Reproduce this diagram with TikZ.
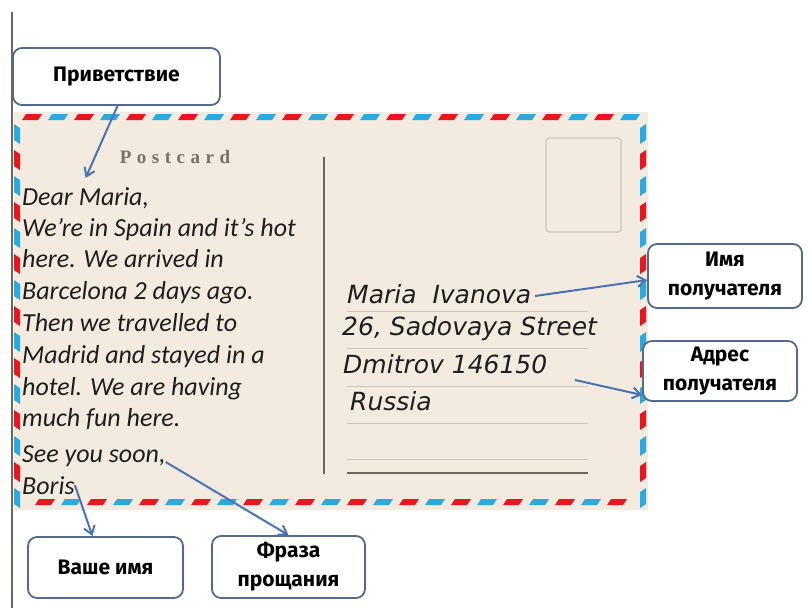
\documentclass[tikz,border=0pt]{standalone}
\usepackage{fontspec}
\setmainfont{Carlito}
\newfontfamily\handfont{DejaVu Sans}
\newfontfamily\labfont{Fira Sans}
\newfontfamily\pcfont{Liberation Serif}
\usetikzlibrary{arrows.meta}
\definecolor{beige}{RGB}{244,235,224}
\definecolor{amred}{RGB}{232,22,32}
\definecolor{amblue}{RGB}{42,170,222}
\definecolor{arrowblue}{RGB}{72,116,180}
\definecolor{boxedge}{RGB}{84,106,140}
\definecolor{txt}{RGB}{30,30,30}
\definecolor{linegray}{RGB}{205,196,186}
\definecolor{darkline}{RGB}{110,102,94}
\definecolor{pcgray}{RGB}{122,112,102}
\begin{document}
\begin{tikzpicture}[x=1pt,y=-1pt,
  lab/.style={draw=boxedge, line width=1.8pt, rounded corners=9pt, fill=white,
    font=\labfont\bfseries\fontsize{21}{29}\selectfont, align=center, inner sep=0pt, text=black},
  letline/.style={anchor=base west, font=\itshape\fontsize{26}{30}\selectfont, text=txt, inner sep=0pt},
  adr/.style={anchor=base west, font=\handfont\itshape\fontsize{25}{28}\selectfont, text=txt, inner sep=0pt},
  arr/.style={draw=arrowblue, line width=2pt, -{Straight Barb[length=8pt,width=11pt]}},
  aline/.style={draw=linegray, line width=1pt}
]
\useasboundingbox (0,0) rectangle (809,608);
% left margin line
\draw[darkline, line width=1.5pt] (12,12) -- (12,608);
% postcard background
\fill[beige] (14,112) rectangle (648,510);
% airmail border: top
\foreach \x in {22,74,...,622}
  \fill[amred] (\x,120) -- ++(16,0) -- ++(4,-6) -- ++(-16,0) -- cycle;
\foreach \x in {48,100,...,622}
  \fill[amblue] (\x,120) -- ++(16,0) -- ++(4,-6) -- ++(-16,0) -- cycle;
% bottom
\foreach \x in {35,87,...,620}
  \fill[amred] (\x,505) -- ++(16,0) -- ++(4,-6) -- ++(-16,0) -- cycle;
\foreach \x in {61,113,...,620}
  \fill[amblue] (\x,505) -- ++(16,0) -- ++(4,-6) -- ++(-16,0) -- cycle;
% left and right
\foreach \y in {124,176,...,490} {
  \fill[amblue] (14,\y) -- (20,\y+4) -- (20,\y+20) -- (14,\y+16) -- cycle;
  \fill[amblue] (640,\y+4) -- (646,\y) -- (646,\y+16) -- (640,\y+20) -- cycle;
}
\foreach \y in {150,202,...,490} {
  \fill[amred] (14,\y) -- (20,\y+4) -- (20,\y+20) -- (14,\y+16) -- cycle;
  \fill[amred] (640,\y+4) -- (646,\y) -- (646,\y+16) -- (640,\y+20) -- cycle;
}
% Postcard title
\node[font=\pcfont\bfseries\fontsize{19}{22}\selectfont, text=pcgray, inner sep=0pt] (title) at (175,157)
  {P\kern5.5pt o\kern5.5pt s\kern5.5pt t\kern5.5pt c\kern5.5pt a\kern5.5pt r\kern5.5pt d};
% divider
\draw[darkline, line width=1.5pt] (324,157) -- (324,474);
% stamp
\draw[linegray, line width=1.2pt, rounded corners=3pt] (546,138) rectangle (621,232);
% address lines
\foreach \y in {311,348,386,423,459} \draw[aline] (347,\y) -- (588,\y);
\draw[darkline, line width=2pt] (347,473) -- (588,473);
% letter text
\node[letline] (dear) at (22,205) {Dear Maria,};
\node[letline] (l2) at (22,236) {We’re in Spain and it’s hot};
\node[letline] (l3) at (22,267) {here. We arrived in};
\node[letline] (l4) at (22,299) {Barcelona 2 days ago.};
\node[letline] (l5) at (22,331) {Then we travelled to};
\node[letline] (l6) at (22,363) {Madrid and stayed in a};
\node[letline] (l7) at (22,395) {hotel. We are having};
\node[letline] (l8) at (22,426) {much fun here.};
\node[letline] (soon) at (22,462) {See you soon,};
\node[letline] (boris) at (22,494) {Boris};
% address text
\node[adr] (maria) at (347,303) {Maria\ \ Ivanova};
\node[adr] (street) at (342,335) {26, Sadovaya Street};
\node[adr] (city) at (343,373) {Dmitrov 146150};
\node[adr] (country) at (350,410) {Russia};
% labels
\node[lab, minimum width=207pt, minimum height=57pt] (greet) at (116.5,76.5) {Приветствие};
\node[lab, minimum width=154pt, minimum height=64pt] (imya) at (725,276) {Имя\\получателя};
\node[lab, minimum width=154pt, minimum height=60pt] (addr) at (720,371) {Адрес\\получателя};
\node[lab, minimum width=155pt, minimum height=61pt] (name) at (105.5,567.5) {Ваше имя};
\node[lab, minimum width=153pt, minimum height=62pt] (fraza) at (288.5,567) {Фраза\\прощания};
% arrows
\coordinate (imyaStart) at (535,296);
\coordinate (addrStart) at (575,380);
\draw[arr] ([xshift=1pt]greet.south) -- ([yshift=9pt]dear.north);
\draw[arr] (imyaStart) -- ([yshift=-4pt]imya.west);
\draw[arr] (addrStart) -- ([yshift=-24pt]addr.west);
\draw[arr] (boris.east) -- ([xshift=-13pt]name.north);
\draw[arr] (soon.base east) -- (fraza.north);
\end{tikzpicture}
\end{document}
